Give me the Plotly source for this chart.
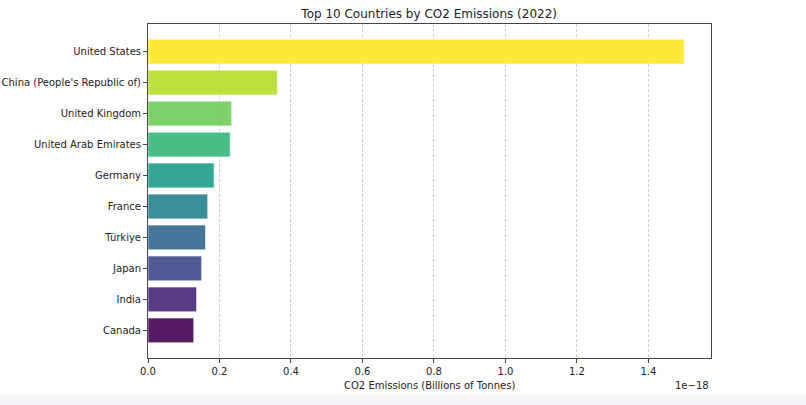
import plotly.graph_objects as go
from plotly.colors import sample_colorscale

# Data (values shown in units of 1e-18 on the axis, as in the reference)
countries = ["Canada", "India", "Japan", "Türkiye", "France", "Germany",
             "United Arab Emirates", "United Kingdom",
             "China (People's Republic of)", "United States"]
emissions = [0.128, 0.136, 0.150, 0.161, 0.167, 0.185, 0.230, 0.234, 0.362, 1.500]
x_ticks = [0.0, 0.2, 0.4, 0.6, 0.8, 1.0, 1.2, 1.4]
offset_label = "1e\u221218"

n = len(countries)
colors = sample_colorscale("Viridis", [i / (n - 1) for i in range(n)])

fig = go.Figure()
fig.add_trace(go.Bar(
    y=list(range(n)), x=emissions, orientation="h",
    marker=dict(color=colors, opacity=0.9, line=dict(color="rgba(255,255,255,0.6)", width=1)),
    width=0.8,
))

xmax = max(emissions) * 1.05
fig.update_layout(
    width=806, height=405,
    margin=dict(l=148, r=95, t=24, b=47),
    paper_bgcolor="white", plot_bgcolor="white",
    font=dict(family="DejaVu Sans", size=10, color="#222"),
    showlegend=False,
    title=dict(text="Top 10 Countries by CO2 Emissions (2022)", x=0.5325, xanchor="center",
               y=0.965, yanchor="middle", font=dict(size=12, color="#222")),
    xaxis=dict(range=[0, xmax], tickvals=x_ticks, ticktext=[f"{v:.1f}" for v in x_ticks],
               showgrid=True, gridcolor="#cfcfcf", griddash="3px,2px", gridwidth=0.8,
               zeroline=False, showline=True, linecolor="#444", linewidth=1, mirror=True,
               ticks="outside", ticklen=4, tickcolor="#444", tickfont=dict(size=10, color="#222"),
               automargin=False),
    yaxis=dict(range=[-0.89, n - 1 + 0.89], tickvals=list(range(n)), ticktext=countries,
               showgrid=False, zeroline=False, showline=True, linecolor="#444", linewidth=1,
               mirror=True, ticks="outside", ticklen=4, tickcolor="#444",
               tickfont=dict(size=10, color="#222"), automargin=False),
    annotations=[
        dict(text="CO2 Emissions (Billions of Tonnes)", xref="paper", yref="paper",
             x=0.5, y=-0.081, xanchor="center", yanchor="middle", showarrow=False,
             font=dict(size=10, color="#222")),
        dict(text=offset_label, xref="paper", yref="paper", x=1.0, y=-0.081,
             xanchor="right", yanchor="middle", showarrow=False, font=dict(size=10, color="#222")),
    ],
    shapes=[dict(type="rect", xref="paper", yref="paper", x0=-0.3, x1=1.2,
                 y0=-0.11, y1=-0.2, fillcolor="#f3f5f8", line=dict(width=0), layer="below")],
)

fig.write_html("out.html")
